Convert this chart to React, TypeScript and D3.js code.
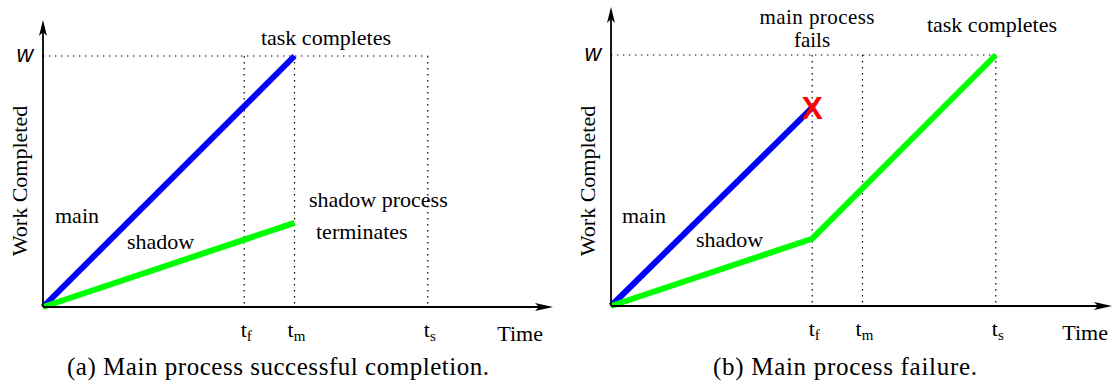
import React from "react";
import * as d3 from "d3";

// ---- data ----
const timeMarkNames = ["f", "m", "s"];
const timeMarkValues = [4, 5, 7.65];
const workTotal = 1;
const mainA: [number, number][] = [[0, 0], [5, 1]];
const shadowA: [number, number][] = [[0, 0], [5, 0.335]];
const mainB: [number, number][] = [[0, 0], [4, 0.79]];
const shadowB: [number, number][] = [[0, 0], [4, 0.268], [7.65, 1]];
const failTime = 4;
const failWork = 0.79;

const SERIF = "'Liberation Serif', 'Times New Roman', serif";
const SANS = "'Liberation Sans', Arial, sans-serif";

type PanelProps = {
  x0: number; xArrow: number; timeX: number; yBase: number; yW: number; yTop: number;
  main: [number, number][]; shadow: [number, number][];
};

function Panel({ x0, xArrow, timeX, yBase, yW, yTop, main, shadow }: PanelProps) {
  const x = d3.scaleLinear().domain([0, 10]).range([x0, x0 + 503]);
  const y = d3.scaleLinear().domain([0, workTotal]).range([yBase, yW]);
  const line = d3.line<[number, number]>().x((d) => x(d[0])).y((d) => y(d[1]));
  const ts = timeMarkValues[timeMarkValues.length - 1];
  const dash = "1.4 4.6";
  return (
    <g>
      {/* dotted guides */}
      <line x1={x(0)} x2={x(ts)} y1={y(workTotal)} y2={y(workTotal)} stroke="#000" strokeWidth={1.2} strokeDasharray={dash} />
      {timeMarkValues.map((t, i) => (
        <line key={i} x1={x(t)} x2={x(t)} y1={y(workTotal)} y2={y(0)} stroke="#000" strokeWidth={1.2} strokeDasharray={dash} />
      ))}
      {/* series */}
      <path d={line(main) || ""} fill="none" stroke="#0000ff" strokeWidth={6} strokeLinejoin="round" />
      <path d={line(shadow) || ""} fill="none" stroke="#00ff00" strokeWidth={6} strokeLinejoin="round" />
      {/* axes */}
      <line x1={x0} x2={x0} y1={yBase} y2={yTop + 8} stroke="#000" strokeWidth={1.8} />
      <line x1={x0} x2={xArrow - 8} y1={yBase} y2={yBase} stroke="#000" strokeWidth={1.8} />
      <path d={`M${x0},${yTop} L${x0 + 4},${yTop + 16} L${x0},${yTop + 12} L${x0 - 4},${yTop + 16} Z`} fill="#000" />
      <path d={`M${xArrow},${yBase} L${xArrow - 18},${yBase - 4} L${xArrow - 14},${yBase} L${xArrow - 18},${yBase + 4} Z`} fill="#000" />
      {/* W label */}
      <text x={x0 - 10} y={y(workTotal) + 6} textAnchor="end" fontFamily={SANS} fontStyle="italic" fontSize={23}>w</text>
      {/* time tick labels */}
      {timeMarkValues.map((t, i) => (
        <text key={i} x={x(t) + 2} y={yBase + 30} textAnchor="middle" fontFamily={SERIF} fontSize={22}>
          t<tspan fontSize={15} dy={4}>{timeMarkNames[i]}</tspan>
        </text>
      ))}
      <text x={timeX} y={yBase + 34} textAnchor="end" fontFamily={SERIF} fontSize={22}>Time</text>
      <text transform={`translate(${x0 - 16},181) rotate(-90)`} textAnchor="middle" fontFamily={SERIF} fontSize={22}>Work Completed</text>
    </g>
  );
}

export default function App() {
  const xB = d3.scaleLinear().domain([0, 10]).range([611, 611 + 503]);
  const yB = d3.scaleLinear().domain([0, workTotal]).range([306, 55]);
  return (
    <svg width={1113} height={382} style={{ position: "absolute", left: 0, top: 0, background: "#fff" }}>
      <rect width={1113} height={382} fill="#fff" />
      {/* Panel (a) */}
      <Panel x0={43} xArrow={553} timeX={543} yBase={307} yW={56} yTop={20} main={mainA} shadow={shadowA} />
      <g fontFamily={SERIF} fontSize={22} fill="#000">
        <text x={326} y={45} textAnchor="middle">task completes</text>
        <text x={55} y={223}>main</text>
        <text x={127} y={249}>shadow</text>
        <text x={309} y={207}>shadow process</text>
        <text x={316} y={239}>terminates</text>
        <text x={67} y={375} fontSize={25} textLength={422} lengthAdjust="spacing">(a) Main process successful completion.</text>
      </g>
      {/* Panel (b) */}
      <Panel x0={611} xArrow={1112} timeX={1108} yBase={306} yW={55} yTop={7} main={mainB} shadow={shadowB} />
      <g fontFamily={SERIF} fontSize={22} fill="#000">
        <text x={992} y={32} textAnchor="middle">task completes</text>
        <text x={817} y={24} textAnchor="middle" fontSize={21} textLength={115} lengthAdjust="spacing">main process</text>
        <text x={812} y={47} textAnchor="middle" fontSize={21}>fails</text>
        <text x={622} y={223}>main</text>
        <text x={696} y={247}>shadow</text>
        <text x={713} y={375} fontSize={25} textLength={264} lengthAdjust="spacing">(b) Main process failure.</text>
      </g>
      <text x={xB(failTime)} y={yB(failWork) + 11.5} textAnchor="middle" fontFamily={SANS} fontWeight="bold" fontSize={32} fill="#ff0000">X</text>
    </svg>
  );
}
